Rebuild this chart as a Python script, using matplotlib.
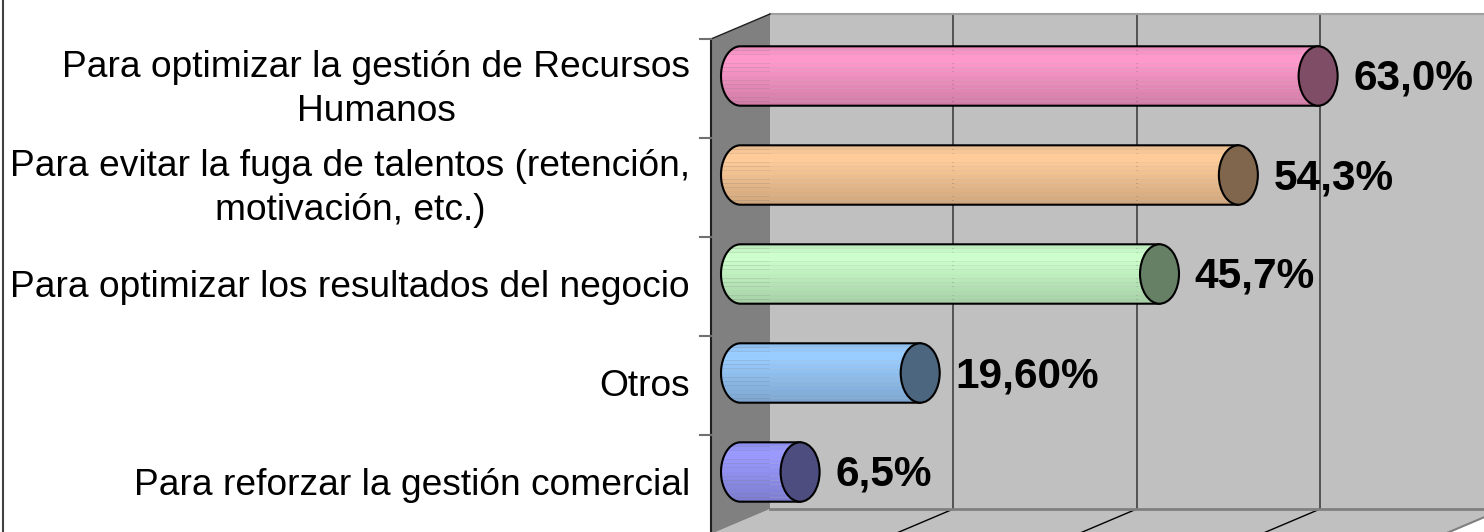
import matplotlib
matplotlib.use("Agg")
import matplotlib.pyplot as plt
import numpy as np
from matplotlib.patches import Polygon, Ellipse
from matplotlib.transforms import IdentityTransform
from matplotlib.lines import Line2D
from matplotlib.colors import to_rgb

categories = [
    "Para optimizar la gestión de Recursos\nHumanos",
    "Para evitar la fuga de talentos (retención,\nmotivación, etc.)",
    "Para optimizar los resultados del negocio",
    "Otros",
    "Para reforzar la gestión comercial",
]
values = [63.0, 54.3, 45.7, 19.6, 6.5]
value_labels = ["63,0%", "54,3%", "45,7%", "19,60%", "6,5%"]
bar_colors = ["#FF99CC", "#FFCC99", "#CCFFCC", "#99CCFF", "#9999FF"]
x_ticks = [0, 20, 40, 60, 80]

W, H, DPI = 1484, 532, 100
DX, DY = 29.5, 12.5   # half depth of the 3d box in px

plt.rcParams["font.family"] = ["Liberation Sans", "DejaVu Sans"]

fig = plt.figure(figsize=(W / DPI, H / DPI), dpi=DPI)
fig.patch.set_facecolor("white")
ax = fig.add_axes([740.5 / W, 10.5 / H, 733.5 / W, 495 / H])
ax.set_xlim(x_ticks[0], x_ticks[-1])
ax.set_ylim(len(categories), 0)
ax.axis("off")
n = len(categories)


def proj(x, y, depth):
    # depth +1 = back wall, -1 = front edge
    px, py = ax.transData.transform((x, y))
    return (px + depth * DX, py + depth * DY)


def wall(pts, **kw):
    p = Polygon([proj(*q) for q in pts], closed=True, transform=IdentityTransform(),
                clip_on=False, **kw)
    ax.add_patch(p)


def seg(a, b, **kw):
    pa, pb = proj(*a), proj(*b)
    ax.add_line(Line2D([pa[0], pb[0]], [pa[1], pb[1]], transform=IdentityTransform(),
                       clip_on=False, **kw))


# walls and floor
x0, x1 = x_ticks[0], x_ticks[-1]
wall([(x0, 0, 1), (x1, 0, 1), (x1, n, 1), (x0, n, 1)], fc="#C0C0C0", ec="none", zorder=0)
wall([(x0, n, 1), (x1, n, 1), (x1, n, -1), (x0, n, -1)], fc="#C0C0C0", ec="none", zorder=0)
wall([(x0, 0, 1), (x0, n, 1), (x0, n, -1), (x0, 0, -1)], fc="#808080", ec="none", zorder=0.2)

for xt in x_ticks[1:-1]:
    seg((xt, 0, 1), (xt, n, 1), color="#404040", lw=1.2, zorder=0.5)
    seg((xt, n, 1), (xt, n, -1), color="black", lw=1.0, zorder=0.5)
seg((x0, 0, 1), (x1, 0, 1), color="#A0A0A0", lw=1.5, zorder=0.6)
seg((x0, n, 1), (x1, n, 1), color="#808080", lw=2.0, zorder=0.6)
seg((x1, n, 1), (x1, n, -1), color="#808080", lw=1.5, zorder=0.6)
seg((x0, 0, -1), (x0, n, -1), color="#202020", lw=1.5, zorder=0.7)
seg((x0, 0, -1), (x0, 0, 1), color="#202020", lw=1.0, zorder=0.7)

# category tick marks on the front edge
for k in range(n + 1):
    px, py = proj(x0, k, -1)
    ax.add_line(Line2D([px - 11, px], [py, py], transform=IdentityTransform(),
                       color="#707070", lw=1.5, clip_on=False))

# cylinders
px_per_x = ax.transData.transform((1, 0))[0] - ax.transData.transform((0, 0))[0]
cap_a = 19.5 / px_per_x
half_h = 0.3
shade = np.concatenate([[0.93, 0.97], np.ones(2), np.linspace(0.98, 0.82, 10)])
for i, (v, c) in enumerate(zip(values, bar_colors)):
    yc = i + 0.5
    base = np.array(to_rgb(c))
    edges = np.linspace(yc - half_h, yc + half_h, len(shade) + 1)
    for k, f in enumerate(shade):
        ys = np.linspace(edges[k], edges[k + 1], 6)
        xs = -cap_a * np.sqrt(np.clip(1 - ((ys - yc) / half_h) ** 2, 0, 1))
        pts = [(v, edges[k])] + list(zip(xs, ys)) + [(v, edges[k + 1])]
        ax.add_patch(Polygon(pts, closed=True, fc=np.clip(base * f, 0, 1), ec="none",
                             lw=0, clip_on=False, zorder=2))
    t = np.linspace(np.pi / 2, 3 * np.pi / 2, 60)
    arc = np.column_stack([cap_a * np.cos(t), yc + half_h * np.sin(t)])
    outline = np.vstack([[[v, yc - half_h], [v, yc + half_h]], arc, [[v, yc - half_h]]])
    ax.add_patch(Polygon(outline, closed=True, fc="none", ec="black", lw=1.5,
                         clip_on=False, zorder=3))
    ax.add_patch(Ellipse((v, yc), 2 * cap_a, 2 * half_h, fc=base * 0.5, ec="black",
                         lw=1.5, clip_on=False, zorder=4))
    ax.annotate(value_labels[i], (v, yc), xytext=(19 + 16, -3), textcoords="offset pixels",
                ha="left", va="center", fontsize=30.5, fontweight="bold",
                annotation_clip=False, zorder=5)

# category labels
for i, cat in enumerate(categories):
    ax.annotate(cat, (x0, i + 0.5), xytext=(-DX - 21, -DY - 1), textcoords="offset pixels",
                ha="right", va="center", multialignment="center", fontsize=26.7,
                linespacing=1.35, annotation_clip=False, zorder=5)

fig.add_artist(Line2D([3 / W, 3 / W], [0, 1], transform=fig.transFigure,
                      color="#404040", lw=1.5))

fig.savefig("out.png", dpi=DPI, facecolor="white")
